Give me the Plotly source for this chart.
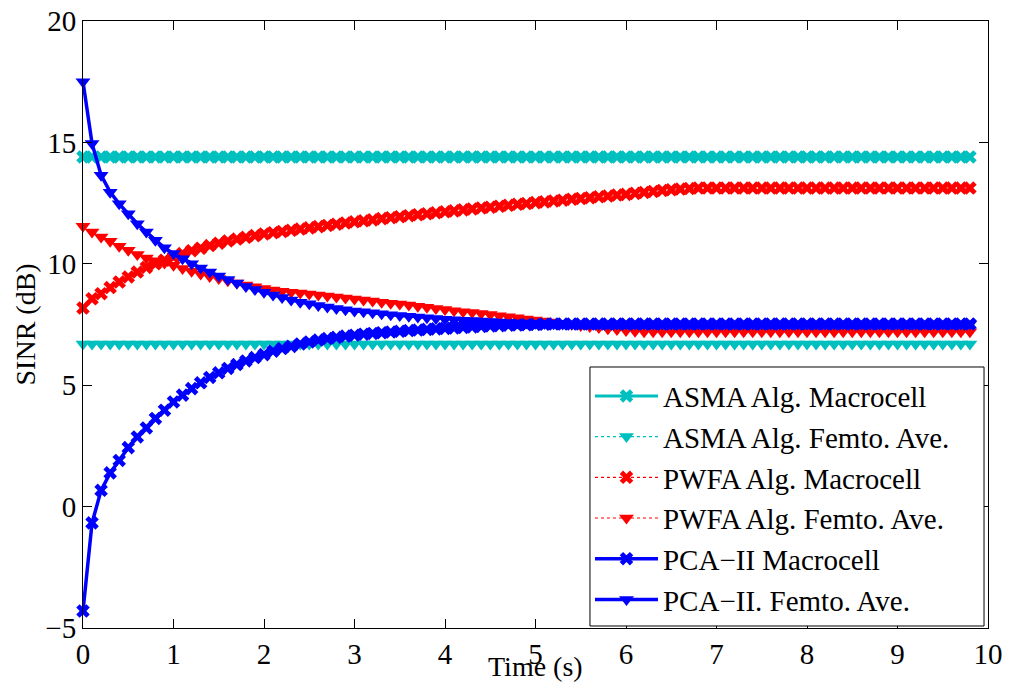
import plotly.graph_objects as go

# Time samples (s)
time_s = [
    0.0, 0.1, 0.2, 0.3, 0.4, 0.5, 0.6, 0.7, 0.8, 0.9,
    1.0, 1.1, 1.2, 1.3, 1.4, 1.5, 1.6, 1.7, 1.8, 1.9,
    2.0, 2.1, 2.2, 2.3, 2.4, 2.5, 2.6, 2.7, 2.8, 2.9,
    3.0, 3.1, 3.2, 3.3, 3.4, 3.5, 3.6, 3.7, 3.8, 3.9,
    4.0, 4.1, 4.2, 4.3, 4.4, 4.5, 4.6, 4.7, 4.8, 4.9,
    5.0, 5.1, 5.2, 5.3, 5.4, 5.5, 5.6, 5.7, 5.8, 5.9,
    6.0, 6.1, 6.2, 6.3, 6.4, 6.5, 6.6, 6.7, 6.8, 6.9,
    7.0, 7.1, 7.2, 7.3, 7.4, 7.5, 7.6, 7.7, 7.8, 7.9,
    8.0, 8.1, 8.2, 8.3, 8.4, 8.5, 8.6, 8.7, 8.8, 8.9,
    9.0, 9.1, 9.2, 9.3, 9.4, 9.5, 9.6, 9.7, 9.8,
]

asma_macro = [
    14.4, 14.4, 14.4, 14.4, 14.4, 14.4, 14.4, 14.4, 14.4, 14.4,
    14.4, 14.4, 14.4, 14.4, 14.4, 14.4, 14.4, 14.4, 14.4, 14.4,
    14.4, 14.4, 14.4, 14.4, 14.4, 14.4, 14.4, 14.4, 14.4, 14.4,
    14.4, 14.4, 14.4, 14.4, 14.4, 14.4, 14.4, 14.4, 14.4, 14.4,
    14.4, 14.4, 14.4, 14.4, 14.4, 14.4, 14.4, 14.4, 14.4, 14.4,
    14.4, 14.4, 14.4, 14.4, 14.4, 14.4, 14.4, 14.4, 14.4, 14.4,
    14.4, 14.4, 14.4, 14.4, 14.4, 14.4, 14.4, 14.4, 14.4, 14.4,
    14.4, 14.4, 14.4, 14.4, 14.4, 14.4, 14.4, 14.4, 14.4, 14.4,
    14.4, 14.4, 14.4, 14.4, 14.4, 14.4, 14.4, 14.4, 14.4, 14.4,
    14.4, 14.4, 14.4, 14.4, 14.4, 14.4, 14.4, 14.4, 14.4,
]

asma_femto = [
    6.7, 6.7, 6.7, 6.7, 6.7, 6.7, 6.7, 6.7, 6.7, 6.7,
    6.7, 6.7, 6.7, 6.7, 6.7, 6.7, 6.7, 6.7, 6.7, 6.7,
    6.7, 6.7, 6.7, 6.7, 6.7, 6.7, 6.7, 6.7, 6.7, 6.7,
    6.7, 6.7, 6.7, 6.7, 6.7, 6.7, 6.7, 6.7, 6.7, 6.7,
    6.7, 6.7, 6.7, 6.7, 6.7, 6.7, 6.7, 6.7, 6.7, 6.7,
    6.7, 6.7, 6.7, 6.7, 6.7, 6.7, 6.7, 6.7, 6.7, 6.7,
    6.7, 6.7, 6.7, 6.7, 6.7, 6.7, 6.7, 6.7, 6.7, 6.7,
    6.7, 6.7, 6.7, 6.7, 6.7, 6.7, 6.7, 6.7, 6.7, 6.7,
    6.7, 6.7, 6.7, 6.7, 6.7, 6.7, 6.7, 6.7, 6.7, 6.7,
    6.7, 6.7, 6.7, 6.7, 6.7, 6.7, 6.7, 6.7, 6.7,
]

pwfa_macro = [
    8.18, 8.56, 8.77, 9.02, 9.25, 9.46, 9.66, 9.85, 10.0, 10.15,
    10.28, 10.42, 10.54, 10.64, 10.75, 10.85, 10.94, 11.02, 11.09, 11.16,
    11.23, 11.28, 11.33, 11.38, 11.43, 11.48, 11.53, 11.58, 11.63, 11.68,
    11.73, 11.77, 11.81, 11.86, 11.9, 11.94, 11.98, 12.02, 12.06, 12.1,
    12.14, 12.18, 12.22, 12.26, 12.3, 12.33, 12.37, 12.41, 12.45, 12.48,
    12.52, 12.55, 12.59, 12.62, 12.66, 12.69, 12.72, 12.76, 12.79, 12.83,
    12.86, 12.9, 12.94, 12.98, 13.02, 13.05, 13.08, 13.1, 13.12, 13.12,
    13.12, 13.12, 13.12, 13.12, 13.12, 13.12, 13.12, 13.12, 13.12, 13.12,
    13.12, 13.12, 13.12, 13.12, 13.12, 13.12, 13.12, 13.12, 13.12, 13.12,
    13.12, 13.12, 13.12, 13.12, 13.12, 13.12, 13.12, 13.12, 13.12,
]

pwfa_femto = [
    11.55, 11.31, 11.1, 10.93, 10.72, 10.56, 10.38, 10.24, 10.13, 10.03,
    9.94, 9.81, 9.69, 9.58, 9.48, 9.39, 9.3, 9.21, 9.13, 9.05,
    8.98, 8.92, 8.87, 8.83, 8.8, 8.76, 8.72, 8.67, 8.63, 8.59,
    8.55, 8.51, 8.47, 8.42, 8.38, 8.34, 8.3, 8.25, 8.21, 8.16,
    8.12, 8.07, 8.03, 7.99, 7.95, 7.91, 7.86, 7.82, 7.78, 7.73,
    7.69, 7.64, 7.6, 7.55, 7.51, 7.46, 7.42, 7.38, 7.33, 7.29,
    7.25, 7.22, 7.2, 7.2, 7.2, 7.2, 7.2, 7.2, 7.2, 7.2,
    7.2, 7.2, 7.2, 7.2, 7.2, 7.2, 7.2, 7.2, 7.2, 7.2,
    7.2, 7.2, 7.2, 7.2, 7.2, 7.2, 7.2, 7.2, 7.2, 7.2,
    7.2, 7.2, 7.2, 7.2, 7.2, 7.2, 7.2, 7.2, 7.2,
]

pca_macro = [
    -4.3, -0.67, 0.67, 1.39, 1.9, 2.43, 2.87, 3.24, 3.63, 3.97,
    4.31, 4.59, 4.86, 5.1, 5.32, 5.51, 5.69, 5.85, 6.0, 6.14,
    6.26, 6.4, 6.51, 6.6, 6.7, 6.78, 6.86, 6.92, 6.97, 7.02,
    7.06, 7.1, 7.13, 7.16, 7.19, 7.22, 7.25, 7.27, 7.3, 7.32,
    7.34, 7.36, 7.38, 7.4, 7.42, 7.44, 7.45, 7.47, 7.48, 7.49,
    7.5, 7.51, 7.52, 7.52, 7.52, 7.52, 7.52, 7.52, 7.52, 7.52,
    7.52, 7.52, 7.52, 7.52, 7.52, 7.52, 7.52, 7.52, 7.52, 7.52,
    7.52, 7.52, 7.52, 7.52, 7.52, 7.52, 7.52, 7.52, 7.52, 7.52,
    7.52, 7.52, 7.52, 7.52, 7.52, 7.52, 7.52, 7.52, 7.52, 7.52,
    7.52, 7.52, 7.52, 7.52, 7.52, 7.52, 7.52, 7.52, 7.52,
]

pca_femto = [
    17.5, 14.95, 13.65, 12.95, 12.47, 12.06, 11.65, 11.31, 10.97, 10.66,
    10.42, 10.21, 10.0, 9.83, 9.66, 9.5, 9.35, 9.21, 9.07, 8.94,
    8.83, 8.72, 8.61, 8.51, 8.42, 8.35, 8.28, 8.22, 8.16, 8.11,
    8.06, 8.02, 7.98, 7.94, 7.9, 7.87, 7.84, 7.81, 7.78, 7.75,
    7.72, 7.7, 7.68, 7.66, 7.64, 7.62, 7.6, 7.58, 7.57, 7.56,
    7.55, 7.54, 7.53, 7.52, 7.52, 7.52, 7.52, 7.52, 7.52, 7.52,
    7.52, 7.52, 7.52, 7.52, 7.52, 7.52, 7.52, 7.52, 7.52, 7.52,
    7.52, 7.52, 7.52, 7.52, 7.52, 7.52, 7.52, 7.52, 7.52, 7.52,
    7.52, 7.52, 7.52, 7.52, 7.52, 7.52, 7.52, 7.52, 7.52, 7.52,
    7.52, 7.52, 7.52, 7.52, 7.52, 7.52, 7.52, 7.52, 7.52,
]

series_names = [
    "ASMA Alg. Macrocell",
    "ASMA Alg. Femto. Ave.",
    "PWFA Alg. Macrocell",
    "PWFA Alg. Femto. Ave.",
    "PCA\u2212II Macrocell",
    "PCA\u2212II. Femto. Ave.",
]

x_ticks = [0, 1, 2, 3, 4, 5, 6, 7, 8, 9, 10]
y_ticks = [-5, 0, 5, 10, 15, 20]

CYAN = "#00BFBF"
RED = "#FF0000"
BLUE = "#0000FF"
FONT = "Liberation Serif, Times New Roman, serif"

styles = [
    dict(color=CYAN, dash="solid", width=3, symbol="x", size=12),
    dict(color=CYAN, dash="dot", width=1.2, symbol="triangle-down", size=13),
    dict(color=RED, dash="dot", width=1.2, symbol="x", size=12),
    dict(color=RED, dash="dot", width=1.2, symbol="triangle-down", size=13),
    dict(color=BLUE, dash="solid", width=3.5, symbol="x", size=12),
    dict(color=BLUE, dash="solid", width=3.5, symbol="triangle-down", size=13),
]
series_values = [asma_macro, asma_femto, pwfa_macro, pwfa_femto, pca_macro, pca_femto]

fig = go.Figure()
for i, (name, vals, st) in enumerate(zip(series_names, series_values, styles)):
    fig.add_trace(go.Scatter(
        x=time_s, y=vals, name=name, mode="lines+markers",
        legendgroup="g%d" % i,
        cliponaxis=False,
        line=dict(color=st["color"], dash=st["dash"], width=st["width"]),
        marker=dict(symbol=st["symbol"], size=st["size"], color=st["color"],
                    line=dict(width=0)),
    ))

axis_common = dict(
    showline=True, linecolor="black", linewidth=1, mirror="ticks",
    ticks="inside", ticklen=9, tickwidth=1, tickcolor="black",
    showgrid=False, zeroline=False, automargin=False,
    tickfont=dict(family=FONT, size=29, color="black"),
)

fig.update_layout(
    width=1010, height=684,
    margin=dict(l=83, r=22, t=21, b=56, pad=0),
    paper_bgcolor="white", plot_bgcolor="white",
    font=dict(family=FONT, size=28, color="black"),
    xaxis=dict(range=[0, 10], tickvals=x_ticks, **axis_common),
    yaxis=dict(range=[-5, 20], tickvals=y_ticks, **axis_common),
    showlegend=True,
    legend=dict(
        x=0.5602, xanchor="left", y=0.004, yanchor="bottom",
        bgcolor="rgba(0,0,0,0)", borderwidth=0,
        font=dict(family=FONT, size=29, color="black"),
        itemwidth=63, tracegroupgap=5, traceorder="normal",
    ),
    shapes=[
        # legend frame (white box with black border, like MATLAB)
        dict(type="rect", xref="paper", yref="paper",
             x0=0.5602, x1=0.9956, y0=0.0033, y1=0.430,
             fillcolor="white", line=dict(color="black", width=1),
             layer="above"),
    ],
    annotations=[
        dict(text="Time (s)", x=0.5, y=-0.063, xref="paper", yref="paper",
             xanchor="center", yanchor="middle", showarrow=False,
             font=dict(family=FONT, size=28, color="black")),
        dict(text="SINR (dB)", x=-0.063, y=0.5, xref="paper", yref="paper",
             xanchor="center", yanchor="middle", showarrow=False, textangle=-90,
             font=dict(family=FONT, size=28, color="black")),
    ],
)

fig.write_html("out.html")
